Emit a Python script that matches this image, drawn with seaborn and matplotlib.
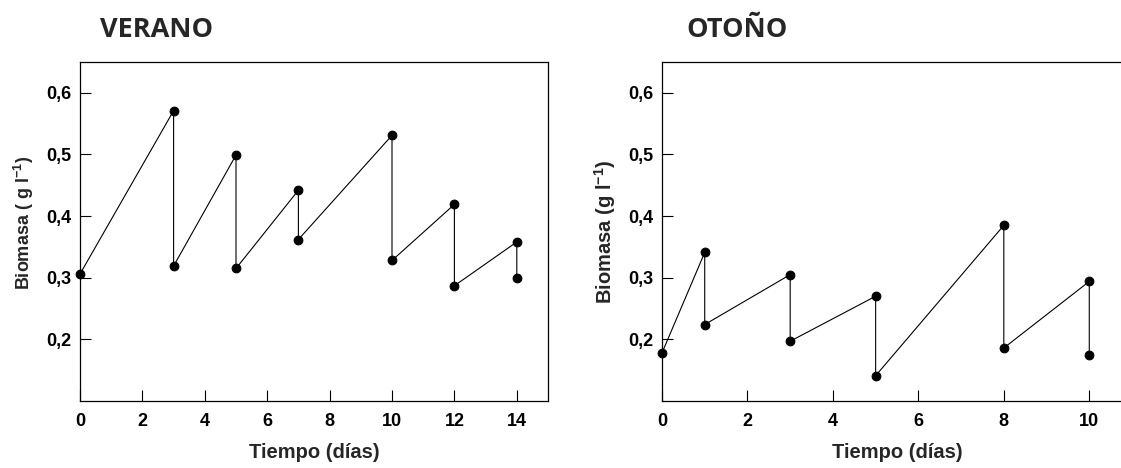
import matplotlib
matplotlib.use("Agg")
import matplotlib.pyplot as plt
import seaborn as sns
import pandas as pd

# Biomass time series (g/l); the repeated day marks the drop after each harvest
verano_dias = [0, 3, 3, 5, 5, 7, 7, 10, 10, 12, 12, 14, 14]
verano_biomasa = [0.306, 0.571, 0.319, 0.499, 0.315, 0.442, 0.362,
                  0.531, 0.328, 0.419, 0.287, 0.358, 0.300]

otono_dias = [0, 1, 1, 3, 3, 5, 5, 8, 8, 10, 10]
otono_biomasa = [0.178, 0.341, 0.224, 0.305, 0.197, 0.270, 0.141,
                 0.385, 0.186, 0.294, 0.174]

titulos = ["VERANO", "OTOÑO"]
etiquetas_y = ["Biomasa ( g l$^{-1}$)", "Biomasa (g l$^{-1}$)"]
etiqueta_x = "Tiempo (días)"

y_ticks = [0.2, 0.3, 0.4, 0.5, 0.6]
y_ticklabels = ["0,2", "0,3", "0,4", "0,5", "0,6"]
verano_xticks = [0, 2, 4, 6, 8, 10, 12, 14]
otono_xticks = [0, 2, 4, 6, 8, 10]

sns.set_theme(style="ticks")
plt.rcParams["font.family"] = ["Liberation Sans", "DejaVu Sans"]
plt.rcParams["font.weight"] = "bold"
plt.rcParams["mathtext.fontset"] = "custom"
plt.rcParams["mathtext.rm"] = "Liberation Sans:bold"
plt.rcParams["mathtext.default"] = "rm"

W, H = 1121, 468
fig = plt.figure(figsize=(W / 100, H / 100), dpi=100)

ax1 = fig.add_axes([80 / W, 1 - 401 / H, 468 / W, 339 / H])
ax2 = fig.add_axes([662 / W, 1 - 401 / H, 470 / W, 339 / H])

paneles = [
    (ax1, verano_dias, verano_biomasa, (0, 15), verano_xticks, 0, 13, 0.525),
    (ax2, otono_dias, otono_biomasa, (0, 11), otono_xticks, 1, 14.5, 0.5),
]

for ax, dias, bio, xlim, xticks, i, ylab_size, ylab_pos in paneles:
    df = pd.DataFrame({"dia": dias, "biomasa": bio})
    sns.lineplot(data=df, x="dia", y="biomasa", sort=False, estimator=None,
                 color="black", linewidth=0.8, marker="o", markersize=6.3,
                 markeredgecolor="black", markerfacecolor="black", ax=ax,
                 clip_on=False, zorder=3)
    ax.set_xlim(*xlim)
    ax.set_ylim(0.10, 0.65)
    ax.set_xticks(xticks)
    ax.set_xticklabels([str(t) for t in xticks])
    ax.set_yticks(y_ticks)
    ax.set_yticklabels(y_ticklabels)
    ax.tick_params(direction="in", length=8, width=0.8, labelsize=13,
                   colors="black")
    ax.tick_params(axis="y", pad=6)
    ax.tick_params(axis="x", pad=9)
    for lbl in ax.get_xticklabels() + ax.get_yticklabels():
        lbl.set_fontweight("bold")
    for s in ax.spines.values():
        s.set_visible(True)
        s.set_linewidth(0.9)
        s.set_color("black")
    ax.set_xlabel(etiqueta_x, fontsize=14.5, fontweight="bold")
    ax.set_ylabel(etiquetas_y[i], fontsize=ylab_size, fontweight="bold")
    ax.xaxis.set_label_coords(0.5, -0.125)
    ax.yaxis.set_label_coords(-0.094, ylab_pos)

fig.text(100 / W, 1 - 37 / H, titulos[0], fontsize=19.5, fontweight="bold",
         family=["Open Sans", "DejaVu Sans"], va="baseline", ha="left")
fig.text(686 / W, 1 - 37 / H, titulos[1], fontsize=19.5, fontweight="bold",
         family=["Open Sans", "DejaVu Sans"], va="baseline", ha="left")

fig.savefig("out.png", dpi=100)
